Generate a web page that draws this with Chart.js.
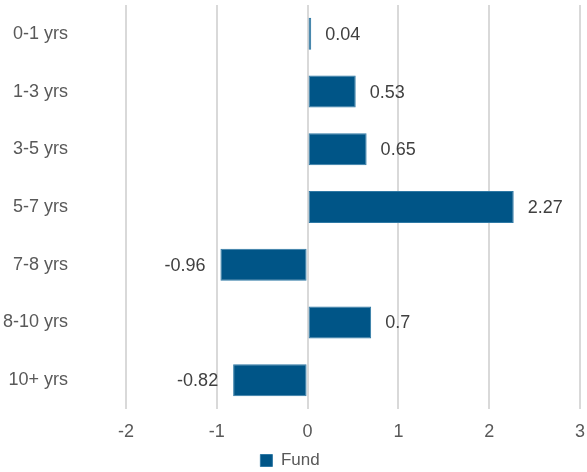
<!DOCTYPE html>
<html>
<head>
<meta charset="utf-8">
<script src="https://cdn.jsdelivr.net/npm/chart.js@4/dist/chart.umd.min.js"></script>
<style>
  html, body { margin: 0; padding: 0; background: #fff; }
  #wrap { width: 587px; height: 472px; }
</style>
</head>
<body>
<div id="wrap"><canvas id="durationChart" width="587" height="472"></canvas></div>
<script>
// values
const buckets = ["0-1 yrs", "1-3 yrs", "3-5 yrs", "5-7 yrs", "7-8 yrs", "8-10 yrs", "10+ yrs"];
const fundValues = [0.04, 0.53, 0.65, 2.27, -0.96, 0.7, -0.82];
const xTicks = [-2, -1, 0, 1, 2, 3];

const fontName = "'Liberation Sans', Arial, sans-serif";
const textColor = "#595959";
const barColor = "#005587";

// draws the value next to the end of each bar
const valueLabels = {
  id: "valueLabels",
  afterDatasetsDraw(chart) {
    const ctx = chart.ctx;
    const meta = chart.getDatasetMeta(0);
    ctx.save();
    ctx.font = "18px " + fontName;
    ctx.fillStyle = "#404040";
    ctx.textBaseline = "middle";
    meta.data.forEach((bar, i) => {
      const v = fundValues[i];
      if (v >= 0) {
        ctx.textAlign = "left";
        ctx.fillText(String(v), bar.x + 14, bar.y + 1);
      } else {
        ctx.textAlign = "right";
        ctx.fillText(String(v), bar.x - 15, bar.y + 1);
      }
    });
    ctx.restore();
  },
};

const chartEl = document.getElementById("durationChart");

const durationChart = new Chart(chartEl, {
  type: "bar",
  data: {
    labels: buckets,
    datasets: [
      {
        label: "Fund",
        data: fundValues,
        backgroundColor: barColor,
        borderColor: "#2f79a5",
        borderWidth: 1,
        borderSkipped: false,
        barPercentage: 0.555,
        categoryPercentage: 1,
      },
    ],
  },
  options: {
    indexAxis: "y",
    responsive: false,
    animation: false,
    devicePixelRatio: 1,
    layout: { padding: { top: 5, right: 7, left: 0, bottom: -7 } },
    scales: {
      x: {
        min: -2,
        max: 3,
        afterBuildTicks: (scale) => {
          scale.ticks = xTicks.map((v) => ({ value: v }));
        },
        afterFit: (scale) => {
          scale.height = 43;
          scale.paddingLeft = 0;
          scale.paddingRight = 0;
        },
        grid: { color: "#d9d9d9", lineWidth: 2, drawTicks: false },
        border: { display: false },
        ticks: {
          color: textColor,
          padding: 12,
          font: { family: fontName, size: 18 },
        },
      },
      y: {
        grid: { display: false, drawTicks: false },
        border: { display: false },
        afterFit: (scale) => {
          scale.width = 126;
          scale.paddingTop = 0;
          scale.paddingBottom = 0;
        },
        ticks: {
          color: textColor,
          padding: 58,
          font: { family: fontName, size: 18 },
        },
      },
    },
    plugins: {
      legend: {
        position: "bottom",
        labels: {
          color: textColor,
          boxWidth: 12,
          boxHeight: 12,
          padding: 0,
          font: { family: fontName, size: 17 },
        },
      },
      tooltip: { enabled: false },
    },
  },
  plugins: [valueLabels],
});
</script>
</body>
</html>
